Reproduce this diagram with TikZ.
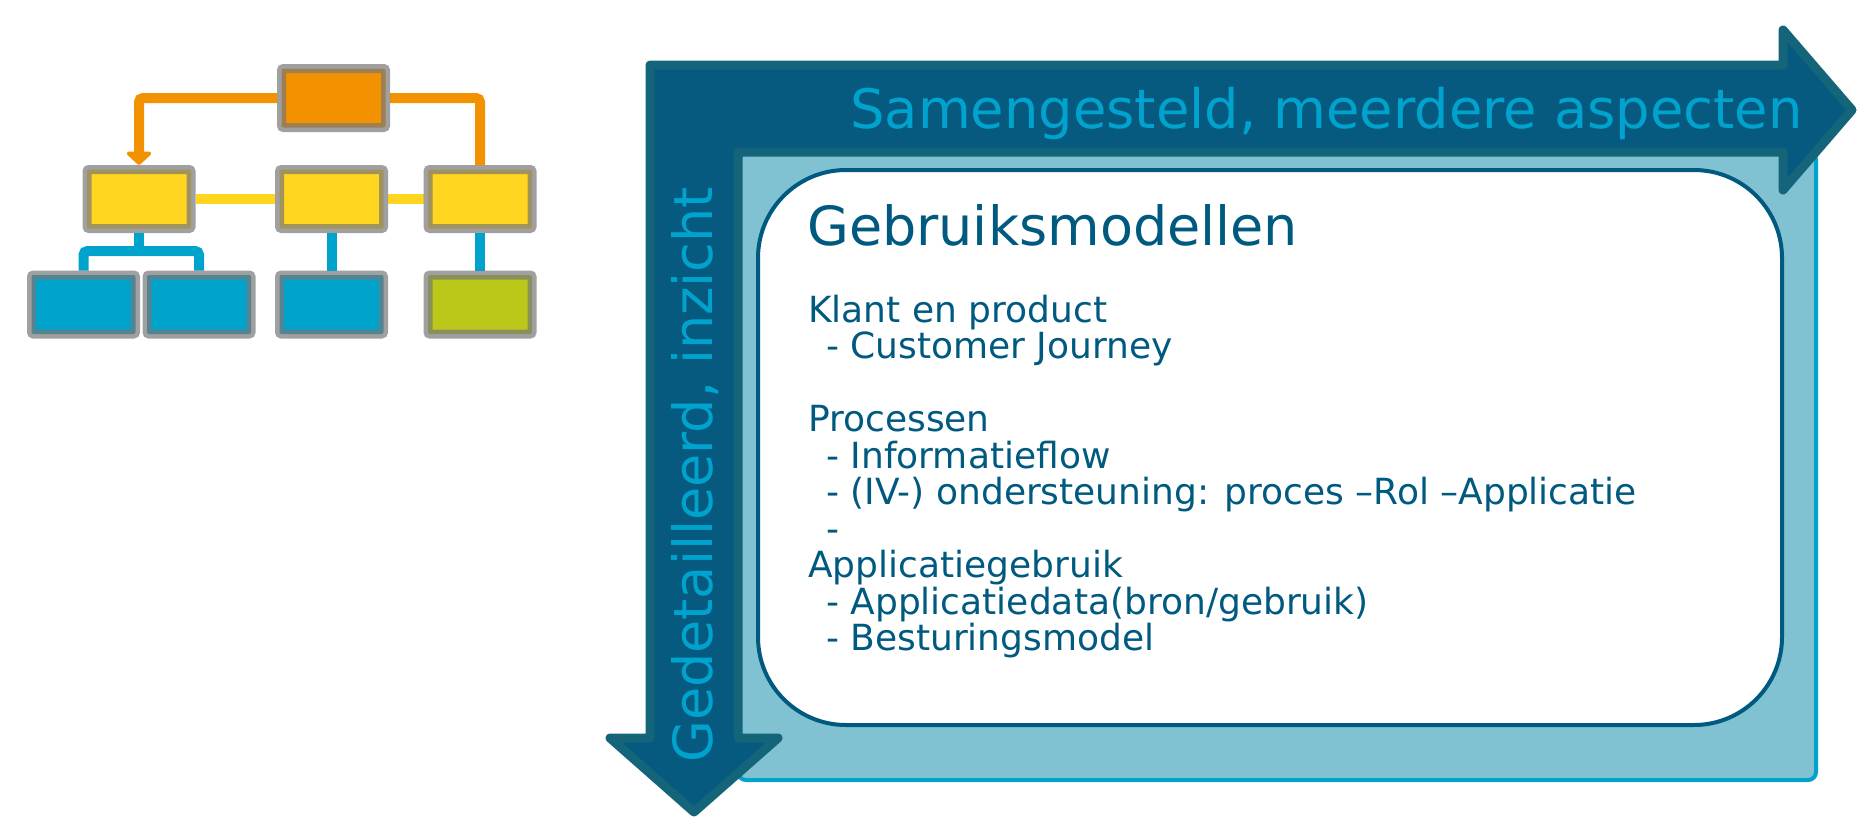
\documentclass[tikz,border=0pt]{standalone}
\usepackage{fontspec}
\setmainfont{DejaVu Sans}
\usetikzlibrary{arrows.meta,backgrounds}
\definecolor{orng}{HTML}{F39200}
\definecolor{ylw}{HTML}{FFD520}
\definecolor{blu}{HTML}{00A3CC}
\definecolor{lime}{HTML}{BBC81A}
\definecolor{rim}{HTML}{787878}
\definecolor{arrowfill}{HTML}{065A80}
\definecolor{arrowrim}{HTML}{14657A}
\definecolor{lightfill}{HTML}{80C1D2}
\definecolor{lightrim}{HTML}{00A3CC}
\definecolor{darktext}{HTML}{005A80}
\definecolor{lighttext}{HTML}{00A3CE}
\begin{document}
\begin{tikzpicture}[x=1pt,y=-1pt,
    box/.style={draw=rim,draw opacity=.7,line width=9pt,rounded corners=2pt,
                minimum width=104pt,minimum height=59pt,inner sep=0pt},
    link/.style={line width=10pt,rounded corners=4pt},
    every node/.style={inner sep=0pt}]
\useasboundingbox (0,0) rectangle (1859,819);
% organigram
\node[box,fill=orng] (top) at (333.5,98) {};
\node[box,fill=ylw] (m1) at (139,199) {};
\node[box,fill=ylw] (m2) at (331.5,199) {};
\node[box,fill=ylw] (m3) at (480,199) {};
\node[box,fill=blu] (b1) at (83.5,304.5) {};
\node[box,fill=blu] (b2) at (199,304.5) {};
\node[box,fill=blu] (b3) at (331.5,304.5) {};
\node[box,fill=lime] (b4) at (480,304.5) {};
\coordinate (fork) at (139,251);
\begin{scope}[on background layer]
  \draw[link,orng,-{Triangle[width=29pt,length=14pt,round]}] (top.west) -| (m1.north);
  \draw[link,orng] (top.east) -| (m3.north);
  \draw[link,ylw] (m1.east) -- (m2.west);
  \draw[link,ylw] (m2.east) -- (m3.west);
  \draw[link,blu] (m1.south) -- (fork);
  \draw[link,blu] (b1.north) |- (fork) -| (b2.north);
  \draw[link,blu] (m2.south) -- (b3.north);
  \draw[link,blu] (m3.south) -- (b4.north);
\end{scope}
% bent arrow with the panel
\draw[line width=4pt,draw=lightrim,fill=lightfill,rounded corners=8pt] (738,152) rectangle (1816,780);
\draw[line width=9pt,line join=round,draw=arrowrim,fill=arrowfill]
  (650,65) -- (1783,65) -- (1783,30) -- (1852,110) -- (1783,190) -- (1783,152)
  -- (738,152) -- (738,738) -- (778,738) -- (694,812) -- (610,738) -- (650,738) -- cycle;
\draw[line width=4pt,draw=darktext,fill=white,rounded corners=88pt] (758,170) rectangle (1782,725);
\node[anchor=base east,text=lighttext,font=\fontsize{54.3}{60}\selectfont] (hor) at (1803,128)
  {Samengesteld, meerdere aspecten};
\node[anchor=base west,rotate=90,text=lighttext,font=\fontsize{54}{60}\selectfont] (vert) at (712,763)
  {Gedetailleerd, inzicht};
\node[anchor=base west,text=darktext,font=\fontsize{54}{60}\selectfont] (title) at (807,245)
  {Gebruiksmodellen};
% base of a multi-line node is the baseline of its last line
\node[anchor=base west,align=left,text=darktext,font=\fontsize{36}{36.5}\selectfont] (body) at (808,650.5)
  {Klant en product\\
   \hspace*{18pt}- Customer Journey\\[36.5pt]
   Processen\\
   \hspace*{18pt}- Informatieflow\\
   \hspace*{18pt}- (IV-) ondersteuning: proces –Rol –Applicatie\\
   \hspace*{18pt}-\\
   Applicatiegebruik\\
   \hspace*{18pt}- Applicatiedata(bron/gebruik)\\
   \hspace*{18pt}- Besturingsmodel};
\end{tikzpicture}
\end{document}
